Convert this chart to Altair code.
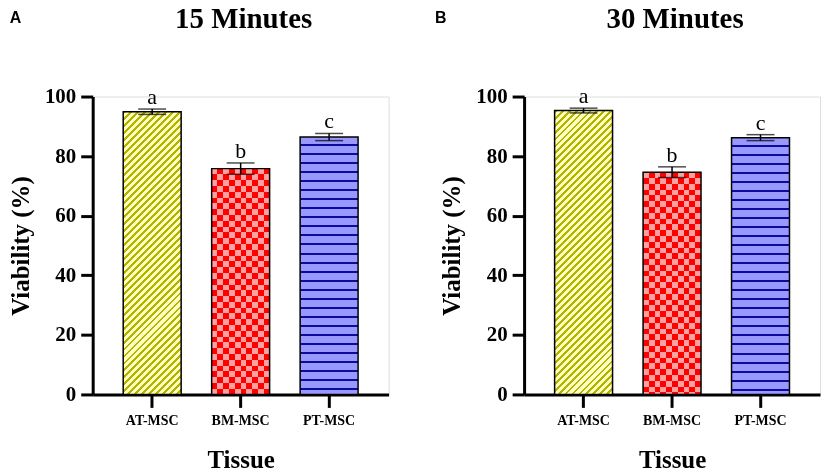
import math
import altair as alt
import pandas as pd

# ---------------- data ----------------
tissues = ["AT-MSC", "BM-MSC", "PT-MSC"]
letters = ["a", "b", "c"]
mean_15 = [94.9, 75.8, 86.4]
err_15 = [0.9, 1.9, 1.2]
mean_30 = [95.3, 74.6, 86.2]
err_30 = [0.8, 1.8, 1.0]
panel_tags = ["A", "B"]
panel_titles = ["15 Minutes", "30 Minutes"]
y_ticks = [0, 20, 40, 60, 80, 100]

# ---------------- styling ----------------
PLOT_W = 297
PLOT_H = 299
PAD = 0.345
STEP = PLOT_W / (3 - PAD + 2 * PAD)
BAR_W = STEP * (1 - PAD)
PX = PLOT_H / 100.0
SERIF = "Liberation Serif"
SANS = "Liberation Sans"

YEL_BG, YEL_LINE, YEL_CLEAR = "#ffffbf", "#b2b400", "rgba(178,180,0,0)"
RED, PINK, CYAN = "#ff0000", "#ffa0a0", "#00a0a0"
BLUE_BG, BLUE_LINE = "#9898ff", "#0c0c9c"


def intervals(n_periods, frac, phase=0.0):
    L = 1.0 / n_periods
    out = []
    k = -1
    while True:
        s = (k + phase) * L
        e = s + frac * L
        k += 1
        if s >= 1:
            break
        if e <= 0:
            continue
        out.append((max(s, 0.0), min(e, 1.0)))
    return out


def stops_from(ivs, c_bg, c_line):
    stops = [{"offset": 0.0, "color": c_bg}]
    for s, e in ivs:
        s, e = round(s, 5), round(e, 5)
        stops += [{"offset": s, "color": c_bg}, {"offset": s, "color": c_line},
                  {"offset": e, "color": c_line}, {"offset": e, "color": c_bg}]
    stops.append({"offset": 1.0, "color": c_bg})
    return stops


def grad(stops, x2, y2, x1=0.0, y1=0.0):
    return {"gradient": "linear", "x1": x1, "y1": y1, "x2": x2, "y2": y2, "stops": stops}


def diag_fills(value, K=4):
    """Diagonal '/' hatching split into K gradient pieces for sharper lines."""
    H = value * PX
    a, b = BAR_W / H, 1.0
    s = (a + b) / (a * a + b * b)
    X2, Y2 = s * a, s * b
    n = (BAR_W + H) / 7.0
    ivs = intervals(n, 0.42)
    fills = []
    for k in range(K):
        lo, hi = k / K, (k + 1) / K
        local = []
        for s0, e0 in ivs:
            if e0 <= lo or s0 >= hi:
                continue
            local.append(((max(s0, lo) - lo) * K, (min(e0, hi) - lo) * K))
        fills.append(grad(stops_from(local, YEL_CLEAR, YEL_LINE),
                          X2 * hi, Y2 * hi, X2 * lo, Y2 * lo))
    return fills


def checker_fills(value):
    H = value * PX
    base = grad(stops_from(intervals(5, 0.5), PINK, RED), 1, 0)
    rows = H / (BAR_W / 10.0)
    over = grad(stops_from(intervals(rows / 2.0, 0.5), "#000000", CYAN), 0, 1)
    return base, over


def hline_fill(value):
    H = value * PX
    p = 9.07
    return grad(stops_from(intervals(H / p, 2.0 / p, phase=(p - 2.0) / p),
                           BLUE_BG, BLUE_LINE), 0, 1)


def panel(means, errs, tag, title, tag_dx):
    df = pd.DataFrame({
        "tissue": tissues,
        "mean": means,
        "lo": [m - e for m, e in zip(means, errs)],
        "hi": [m + e for m, e in zip(means, errs)],
        "letter": letters,
    })
    x = alt.X("tissue:N", sort=tissues,
              scale=alt.Scale(paddingInner=PAD, paddingOuter=PAD),
              axis=alt.Axis(title="Tissue", labelAngle=0, tickSize=13, tickWidth=3,
                            domainWidth=3, domainColor="black", tickColor="black",
                            labelColor="black", labelFont=SERIF, labelFontSize=14,
                            labelFontWeight="bold", labelPadding=6,
                            titleFont=SERIF, titleFontSize=25, titleFontWeight="bold",
                            titleColor="black", titlePadding=20))
    y = alt.Y("mean:Q", scale=alt.Scale(domain=[0, 100], nice=False),
              axis=alt.Axis(title="Viability (%)", values=y_ticks, grid=False,
                            tickSize=12, tickWidth=3, domainWidth=3,
                            domainColor="black", tickColor="black", labelColor="black",
                            labelFont=SERIF, labelFontSize=21, labelFontWeight="bold",
                            labelPadding=5, titleFont=SERIF, titleFontSize=25,
                            titleFontWeight="bold", titleColor="black", titlePadding=11))
    base = alt.Chart(df).encode(x=x, y=y)

    def only(t):
        return base.transform_filter(alt.datum.tissue == t)

    m = dict(zip(tissues, means))
    chk_base, chk_over = checker_fills(m["BM-MSC"])
    layers = [only("AT-MSC").mark_bar(fill=YEL_BG)]
    layers += [only("AT-MSC").mark_bar(fill=f) for f in diag_fills(m["AT-MSC"])]
    layers += [
        only("BM-MSC").mark_bar(fill=chk_base),
        only("BM-MSC").mark_bar(fill=chk_over, blend="difference"),
        only("PT-MSC").mark_bar(fill=hline_fill(m["PT-MSC"])),
        base.mark_bar(fillOpacity=0, stroke="black", strokeWidth=1.5),
        base.mark_rule(color="black", strokeWidth=1.5).encode(y="lo:Q", y2="hi:Q"),
        base.mark_tick(color="black", thickness=1.5, size=28).encode(y="hi:Q"),
        base.mark_tick(color="black", thickness=1.5, size=28).encode(y="lo:Q"),
        base.mark_text(font=SERIF, fontSize=22, color="black", baseline="alphabetic",
                       dy=-5).encode(y="hi:Q", text="letter:N"),
        alt.Chart(alt.Data(values=[{"t": tag}])).mark_text(
            font=SANS, fontSize=16, fontWeight="bold", color="black", align="left",
            baseline="alphabetic").encode(x=alt.value(tag_dx), y=alt.value(-74), text="t:N"),
        alt.Chart(alt.Data(values=[{"t": title}])).mark_text(
            font=SERIF, fontSize=29, fontWeight="bold", color="black", align="center",
            baseline="alphabetic").encode(x=alt.value(PLOT_W / 2 + 3), y=alt.value(-68.3),
                                          text="t:N"),
    ]
    return alt.layer(*layers).properties(width=PLOT_W, height=PLOT_H)


left = panel(mean_15, err_15, panel_tags[0], panel_titles[0], -83.2)
right = panel(mean_30, err_30, panel_tags[1], panel_titles[1], -89.4)

chart = alt.hconcat(left, right, spacing=45).properties(
    padding={"left": 0, "top": -4, "right": 0, "bottom": 0}
).configure_view(strokeWidth=0, stroke="transparent").configure(background="white")

chart.save("out.html", embed_options={"renderer": "svg", "actions": False})
